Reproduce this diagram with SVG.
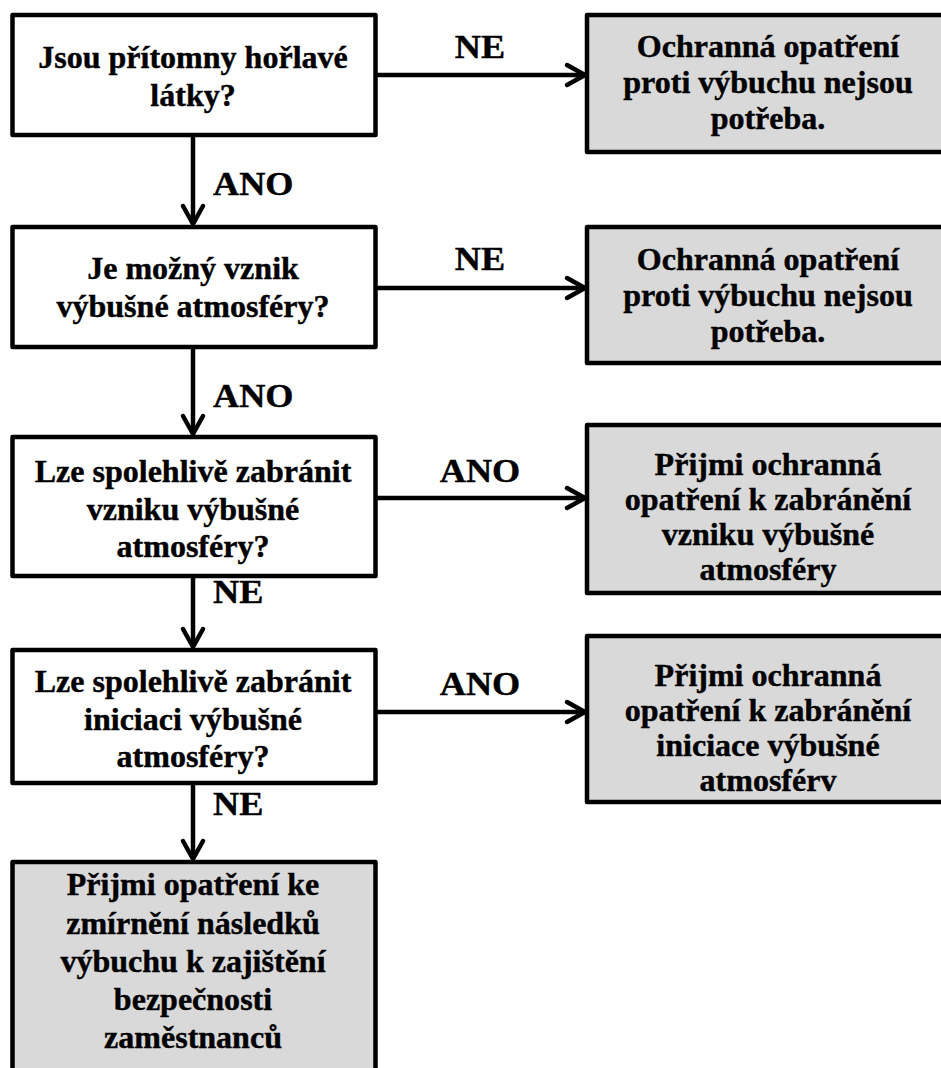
<svg xmlns="http://www.w3.org/2000/svg" width="941" height="1068" viewBox="0 0 941 1068">
<style>
.box{stroke:#000;stroke-width:4.5;stroke-linejoin:round}
.q{fill:#fff}
.r{fill:#d9d9d9}
.t{font-family:"Liberation Serif","Times New Roman",serif;font-weight:bold;font-size:30.5px;fill:#000;stroke:#000;stroke-width:0.4;text-anchor:middle}
.l{font-family:"Liberation Serif","Times New Roman",serif;font-weight:bold;font-size:34.5px;fill:#000;stroke:#000;stroke-width:0.4}
.c{stroke:#000;stroke-width:4.5;fill:none;marker-end:url(#ah)}
</style>
<defs>
<marker id="ah" markerUnits="userSpaceOnUse" markerWidth="30" markerHeight="30" viewBox="-22 -15 30 30" refX="0" refY="0" orient="auto" overflow="visible">
<path d="M-18,-10 L0,0 L-18,10" fill="none" stroke="#000" stroke-width="4.5" stroke-linecap="round" stroke-linejoin="round"/>
</marker>
</defs>
<rect width="941" height="1068" fill="#fff"/>
<g id="connectors">
<path class="c" d="M376,75 H585"/>
<path class="c" d="M376,288 H585"/>
<path class="c" d="M376,498 H585"/>
<path class="c" d="M376,712 H585"/>
<path class="c" d="M193,135 V224"/>
<path class="c" d="M193,347 V434"/>
<path class="c" d="M193,560 V647"/>
<path class="c" d="M193,772 V859"/>
<text class="l" text-anchor="middle" transform="translate(480 0) scale(1.05 1)" x="0" y="58">NE</text>
<text class="l" text-anchor="middle" transform="translate(480 0) scale(1.05 1)" x="0" y="270">NE</text>
<text class="l" text-anchor="middle" transform="translate(480 0) scale(1.05 1)" x="0" y="482">ANO</text>
<text class="l" text-anchor="middle" transform="translate(480 0) scale(1.05 1)" x="0" y="695">ANO</text>
<text class="l" transform="translate(213 0) scale(1.05 1)" x="0" y="195">ANO</text>
<text class="l" transform="translate(213 0) scale(1.05 1)" x="0" y="407">ANO</text>
<text class="l" transform="translate(213 0) scale(1.05 1)" x="0" y="603">NE</text>
<text class="l" transform="translate(213 0) scale(1.05 1)" x="0" y="815">NE</text>
</g>
<g id="q1">
<rect class="box q" x="12.5" y="15" width="363" height="120"/>
<text class="t" transform="translate(193 0) scale(1.05 1)"><tspan x="0" y="68">Jsou přítomny hořlavé</tspan><tspan x="0" y="106">látky?</tspan></text>
</g>
<g id="q2">
<rect class="box q" x="12.5" y="227" width="363" height="120"/>
<text class="t" transform="translate(193 0) scale(1.05 1)"><tspan x="0" y="279">Je možný vznik</tspan><tspan x="0" y="317">výbušné atmosféry?</tspan></text>
</g>
<g id="q3">
<rect class="box q" x="12.5" y="437" width="363" height="139"/>
<text class="t" transform="translate(193 0) scale(1.05 1)"><tspan x="0" y="482">Lze spolehlivě zabránit</tspan><tspan x="0" y="520">vzniku výbušné</tspan><tspan x="0" y="557">atmosféry?</tspan></text>
</g>
<g id="q4">
<rect class="box q" x="12.5" y="650" width="363" height="133"/>
<text class="t" transform="translate(193 0) scale(1.05 1)"><tspan x="0" y="692">Lze spolehlivě zabránit</tspan><tspan x="0" y="730">iniciaci výbušné</tspan><tspan x="0" y="767">atmosféry?</tspan></text>
</g>
<g id="a5">
<rect class="box r" x="12.5" y="862" width="363" height="230"/>
<text class="t" transform="translate(193 0) scale(1.05 1)"><tspan x="0" y="895">Přijmi opatření ke</tspan><tspan x="0" y="934">zmírnění následků</tspan><tspan x="0" y="972">výbuchu k zajištění</tspan><tspan x="0" y="1010">bezpečnosti</tspan><tspan x="0" y="1048">zaměstnanců</tspan></text>
</g>
<g id="a1">
<rect class="box r" x="587" y="15" width="370" height="137"/>
<text class="t" transform="translate(768 0) scale(1.05 1)"><tspan x="0" y="57">Ochranná opatření</tspan><tspan x="0" y="93">proti výbuchu nejsou</tspan><tspan x="0" y="129">potřeba.</tspan></text>
</g>
<g id="a2">
<rect class="box r" x="587" y="227" width="370" height="136"/>
<text class="t" transform="translate(768 0) scale(1.05 1)"><tspan x="0" y="270">Ochranná opatření</tspan><tspan x="0" y="306">proti výbuchu nejsou</tspan><tspan x="0" y="342">potřeba.</tspan></text>
</g>
<g id="a3">
<rect class="box r" x="587" y="425" width="370" height="168"/>
<text class="t" transform="translate(768 0) scale(1.05 1)"><tspan x="0" y="475">Přijmi ochranná</tspan><tspan x="0" y="510">opatření k zabránění</tspan><tspan x="0" y="545">vzniku výbušné</tspan><tspan x="0" y="580">atmosféry</tspan></text>
</g>
<g id="a4">
<rect class="box r" x="587" y="636" width="370" height="166"/>
<text class="t" transform="translate(768 0) scale(1.05 1)"><tspan x="0" y="686">Přijmi ochranná</tspan><tspan x="0" y="721">opatření k zabránění</tspan><tspan x="0" y="756">iniciace výbušné</tspan><tspan x="0" y="791">atmosférv</tspan></text>
</g>
</svg>
